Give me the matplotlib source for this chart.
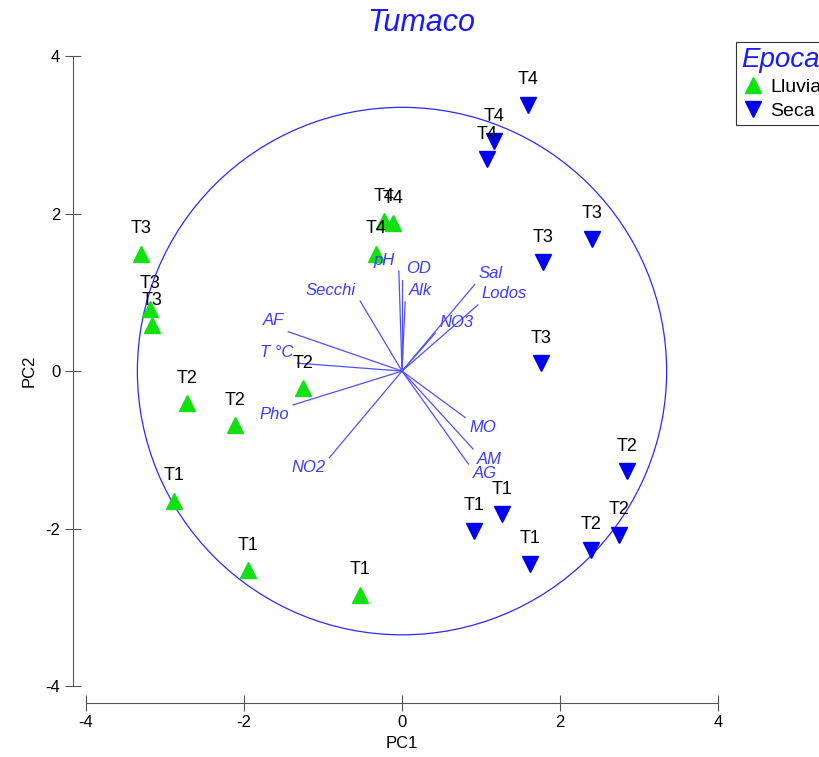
import numpy as np
import matplotlib
matplotlib.use("Agg")
import matplotlib.pyplot as plt
from matplotlib.patches import Circle
from matplotlib.lines import Line2D

plt.rcParams['font.family'] = ['Liberation Sans', 'DejaVu Sans']
plt.rcParams['axes.unicode_minus'] = False

# scores - epoca lluvia
ll_lab = ["T4", "T4", "T4", "T3", "T3", "T3", "T2", "T2", "T2", "T1", "T1", "T1"]
ll_x = [-0.23, -0.11, -0.33, -3.30, -3.19, -3.16, -2.72, -2.11, -1.25, -2.89, -1.95, -0.53]
ll_y = [1.90, 1.88, 1.49, 1.49, 0.79, 0.58, -0.41, -0.69, -0.22, -1.65, -2.53, -2.84]

# scores - epoca seca
se_lab = ["T4", "T4", "T4", "T3", "T3", "T3", "T2", "T2", "T2", "T1", "T1", "T1"]
se_x = [1.59, 1.16, 1.08, 2.41, 1.78, 1.76, 2.85, 2.75, 2.39, 1.27, 0.91, 1.62]
se_y = [3.38, 2.92, 2.69, 1.68, 1.38, 0.10, -1.27, -2.08, -2.27, -1.82, -2.03, -2.45]

# loadings
var_lab = ["pH", "OD", "Alk", "Sal", "Lodos", "NO3", "Secchi", "AF", "T °C",
           "Pho", "NO2", "MO", "AM", "AG"]
var_x = [-0.04, 0.00, 0.04, 0.92, 0.96, 0.42, -0.53, -1.44, -1.32,
         -1.38, -0.92, 0.80, 0.90, 0.84]
var_y = [1.27, 1.16, 0.88, 1.10, 0.84, 0.48, 0.89, 0.50, 0.10,
         -0.43, -1.10, -0.59, -0.99, -1.18]

radio = 3.35

fig = plt.figure(figsize=(8.2, 7.57), dpi=100)
ax = fig.add_axes([0.1049, 0.0938, 0.7707, 0.832])
ax.set_xlim(-4, 4)
ax.set_ylim(-4, 4)

ax.add_patch(Circle((0, 0), radio, fill=False, ec="#2a2aff", lw=0.9))

vcol = "#3c3cff"
for lab, x, y in zip(var_lab, var_x, var_y):
    ax.plot([0, x], [0, y], color="#5050ff", lw=0.9)
    if x >= 0:
        ha, dx = "left", 4
    else:
        ha, dx = "right", -4
    dy = 11 if y > 0 else -10
    ax.annotate(lab, (x, y), xytext=(dx, dy), textcoords="offset pixels",
                ha=ha, va="center", fontsize=12, style="italic", color=vcol)

verde = "#11e011"
azul = "#0000f0"
ax.plot(ll_x, ll_y, ls="none", marker="^", ms=11, color=verde, mec=verde)
ax.plot(se_x, se_y, ls="none", marker="v", ms=11, color=azul, mec=azul)
for lab, x, y in zip(ll_lab + se_lab, ll_x + se_x, ll_y + se_y):
    ax.annotate(lab, (x, y), xytext=(0, 25), textcoords="offset pixels",
                ha="center", va="center", fontsize=13, color="black")

for s in ["top", "right"]:
    ax.spines[s].set_visible(False)
ax.spines["left"].set_position(("outward", 9.5))
ax.spines["bottom"].set_position(("outward", 12))
for s in ["left", "bottom"]:
    ax.spines[s].set_color("#555555")
ax.set_xticks([-4, -2, 0, 2, 4])
ax.set_yticks([-4, -2, 0, 2, 4])
ax.tick_params(direction="inout", length=11, color="#555555", labelsize=12)
ax.set_xlabel("PC1", fontsize=12, labelpad=4)
ax.set_ylabel("PC2", fontsize=12, labelpad=6)
fig.text(421 / 820, 1 - 23 / 757, "Tumaco", fontsize=22, style="italic",
         color="#1a1aff", ha="center", va="center")

handles = [Line2D([], [], ls="none", marker="^", ms=12, color=verde),
           Line2D([], [], ls="none", marker="v", ms=12, color=azul)]
leg = fig.legend(handles, ["Lluvia", "Seca"], loc="upper left",
                 bbox_to_anchor=(736 / 820, 1 - 42 / 757), fontsize=14,
                 title="Epoca", frameon=True, fancybox=False, edgecolor="black",
                 handletextpad=0.3, handlelength=1.2, borderaxespad=0,
                 borderpad=0.25, labelspacing=0.3)
leg.get_title().set_fontsize(20)
leg.get_title().set_style("italic")
leg.get_title().set_color("#1a1aff")
leg._legend_box.align = "left"
leg.get_frame().set_linewidth(0.8)

fig.savefig("out.png", dpi=100)
